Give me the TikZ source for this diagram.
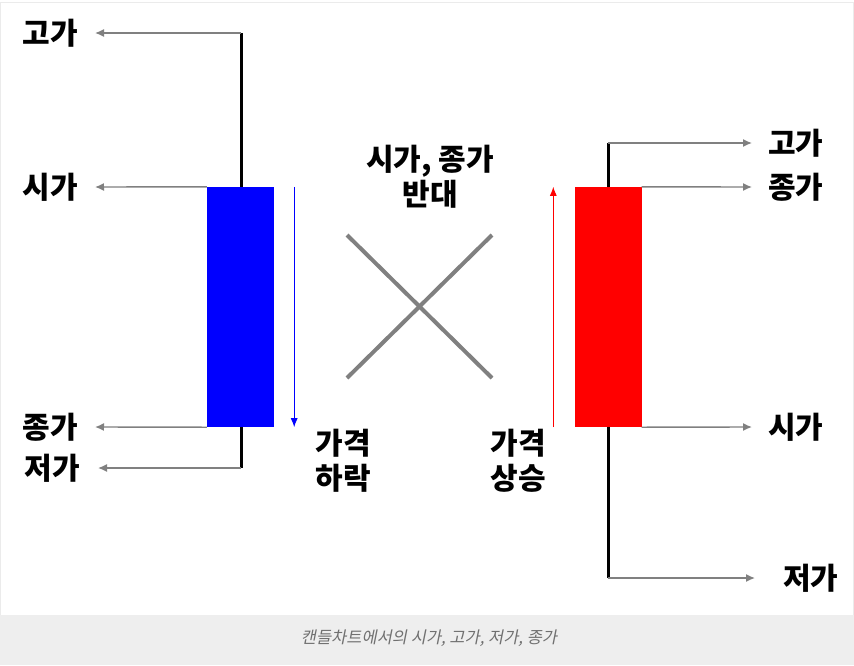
\documentclass[tikz,border=0pt]{standalone}
\usepackage{fontspec}
\usetikzlibrary{arrows.meta}
\newfontfamily\krfont{Noto Sans CJK KR}
\newfontfamily\capfont{Noto Sans CJK KR}[FakeSlant=0.2]
\definecolor{capbg}{HTML}{EEEEEE}
\definecolor{capfg}{HTML}{707070}
\definecolor{linegray}{HTML}{808080}
\begin{document}
\begin{tikzpicture}[x=1pt,y=-1pt,
    lbl/.style={font=\krfont\bfseries\fontsize{30}{35}\selectfont, inner sep=0pt, align=center},
    pointer/.style={draw=linegray, line width=1.4pt, -{Latex[length=9pt,width=8pt]}},
    wick/.style={line width=3pt},
    candle/.style={draw=none, minimum width=67pt, minimum height=240pt, inner sep=0pt}]
    \useasboundingbox (0,0) rectangle (854,665);

    % Frame and caption band
    \draw[black!8] (0.5,2.5) rectangle (853.5,615);
    \fill[capbg] (0,615) rectangle (854,665);
    \node[font=\capfont\fontsize{16.5}{20}\selectfont, text=capfg] (caption) at (429,638) {캔들차트에서의 시가, 고가, 저가, 종가};

    % Falling candle (blue)
    \coordinate (dHi) at (241,33);
    \coordinate (dLo) at (241,468);
    \draw[wick] (dHi) -- (dLo);
    \node[candle, fill=blue] (down) at (240.5,307) {};
    \node[lbl, anchor=east] (dHiL) at (78,33) {고가};
    \node[lbl, anchor=east] (dOpL) at (78,187) {시가};
    \node[lbl, anchor=east] (dClL) at (78,427) {종가};
    \node[lbl, anchor=east] (dLoL) at (80,468) {저가};
    \draw[pointer] (dHi) -- ([xshift=17pt]dHiL.east);
    \draw[pointer] (down.north west) -- ([xshift=17pt]dOpL.east);
    \draw[pointer] (down.south west) -- ([xshift=17pt]dClL.east);
    \draw[pointer] (dLo) -- ([xshift=18pt]dLoL.east);
    \draw[blue, line width=0.9pt, -{Latex[length=9pt,width=7pt]}] ([xshift=20pt]down.north east) -- ([xshift=20pt]down.south east);
    \node[lbl] (fall) at (343,461) {가격\\하락};

    % Swap note and cross
    \node[lbl] (swap) at (430,177) {시가, 종가\\반대};
    \coordinate (xA) at (347,235);
    \coordinate (xB) at (492,378);
    \coordinate (xC) at (347,378);
    \coordinate (xD) at (492,235);
    \draw[linegray, line width=4pt] (xA) -- (xB);
    \draw[linegray, line width=4pt] (xC) -- (xD);

    % Rising candle (red)
    \coordinate (uHi) at (608,143);
    \coordinate (uLo) at (608,578);
    \draw[wick] (uHi) -- (uLo);
    \node[candle, fill=red] (up) at (608,307) {};
    \node[lbl, anchor=west] (uHiL) at (768,143) {고가};
    \node[lbl, anchor=west] (uClL) at (768,187) {종가};
    \node[lbl, anchor=west] (uOpL) at (768,427) {시가};
    \node[lbl, anchor=west] (uLoL) at (783,578) {저가};
    \draw[pointer] (uHi) -- ([xshift=-16pt]uHiL.west);
    \draw[pointer] (up.north east) -- ([xshift=-16pt]uClL.west);
    \draw[pointer] (up.south east) -- ([xshift=-16pt]uOpL.west);
    \draw[pointer] (uLo) -- ([xshift=-28pt]uLoL.west);
    \draw[red, line width=0.9pt, -{Latex[length=9pt,width=7pt]}] ([xshift=-21pt]up.south west) -- ([xshift=-21pt]up.north west);
    \node[lbl] (rise) at (518,461) {가격\\상승};

\end{tikzpicture}
\end{document}
